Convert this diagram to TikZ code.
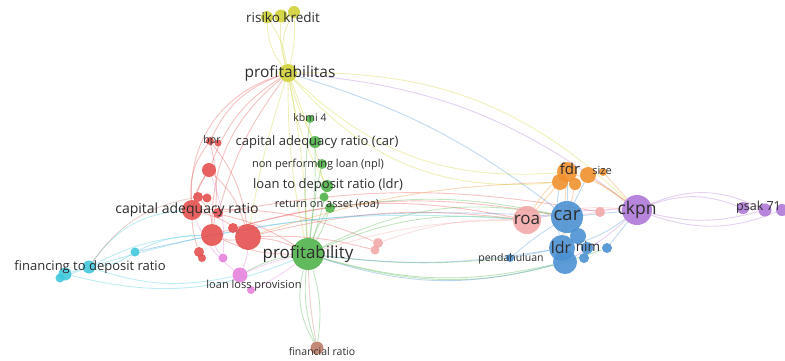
\documentclass[tikz,border=0pt]{standalone}
\usepackage{fontspec}
\setmainfont{Open Sans}
\usetikzlibrary{backgrounds}
\definecolor{cY}{RGB}{210,210,55}
\definecolor{cG}{RGB}{80,180,75}
\definecolor{cR}{RGB}{228,80,80}
\definecolor{cB}{RGB}{75,145,210}
\definecolor{cO}{RGB}{240,145,45}
\definecolor{cP}{RGB}{175,120,215}
\definecolor{cC}{RGB}{65,200,220}
\definecolor{cM}{RGB}{228,130,220}
\definecolor{cS}{RGB}{242,168,168}
\definecolor{cBr}{RGB}{190,125,105}
\definecolor{labc}{RGB}{45,45,45}
\begin{document}
\begin{tikzpicture}[x=1pt,y=-1pt,
  bub/.style 2 args={circle,fill=#1,inner sep=0pt,minimum size=#2,fill opacity=.9},
  lab/.style={text=labc,inner sep=0pt,font=\fontsize{#1}{#1}\selectfont},
  e/.style={draw=#1,draw opacity=.35,line width=.9pt}]
\useasboundingbox (0,0) rectangle (785,360);
% ---------- bubbles ----------
% yellow
\node[bub={cY}{12}] (rkA) at (267,17) {};
\node[bub={cY}{13}] (rkB) at (281,16) {};
\node[bub={cY}{12}] (rkC) at (294,12) {};
\node[bub={cY}{18}] (ptas) at (288,73) {};
% green
\node[bub={cG}{32}] (pty) at (308,254) {};
\node[bub={cG}{8}] (kbmi) at (310,119) {};
\node[bub={cG}{12}] (carG) at (315,142) {};
\node[bub={cG}{10}] (npl) at (322,164) {};
\node[bub={cG}{12}] (ldrG) at (327,186) {};
\node[bub={cG}{9}] (ldrG2) at (324,197) {};
\node[bub={cG}{10}] (roaG) at (330,208) {};
% red
\node[bub={cR}{8}] (bprA) at (210,141) {};
\node[bub={cR}{7}] (bprB) at (218,143) {};
\node[bub={cR}{14}] (r1) at (209,170) {};
\node[bub={cR}{10}] (r2) at (198,197) {};
\node[bub={cR}{9}] (r3) at (207,198) {};
\node[bub={cR}{20}] (r4) at (192,210) {};
\node[bub={cR}{10}] (r5) at (218,213) {};
\node[bub={cR}{22}] (r6) at (212,235) {};
\node[bub={cR}{26}] (r7) at (248,237) {};
\node[bub={cR}{10}] (r8) at (233,228) {};
\node[bub={cR}{10}] (r9) at (199,252) {};
\node[bub={cR}{8}] (r10) at (202,258) {};
% magenta
\node[bub={cM}{9}] (m1) at (223,258) {};
\node[bub={cM}{15}] (m2) at (240,275) {};
\node[bub={cM}{8}] (m3) at (251,290) {};
% cyan
\node[bub={cC}{9}] (c1) at (135,252) {};
\node[bub={cC}{13}] (c2) at (89,267) {};
\node[bub={cC}{13}] (c3) at (65,274) {};
\node[bub={cC}{9}] (c4) at (60,278) {};
% brown
\node[bub={cBr}{13}] (fr) at (317,348) {};
% salmon
\node[bub={cS}{10}] (s1) at (378,243) {};
\node[bub={cS}{9}] (s2) at (375,250) {};
\node[bub={cS}{10}] (s3) at (600,212) {};
\node[bub={cS}{28}] (roa) at (527,220) {};
% orange
\node[bub={cO}{16}] (o2) at (560,182) {};
\node[bub={cO}{12}] (o3) at (575,184) {};
\node[bub={cO}{16}] (o4) at (588,175) {};
\node[bub={cO}{20}] (fdr) at (567,172) {};
\node[bub={cO}{8}] (size) at (603,172) {};
% blue
\node[bub={cB}{24}] (ldrB) at (565,262) {};
\node[bub={cB}{26}] (ldrA) at (562,248) {};
\node[bub={cB}{16}] (b3) at (578,236) {};
\node[bub={cB}{32}] (car) at (567,217) {};
\node[bub={cB}{12}] (nim) at (587,248) {};
\node[bub={cB}{10}] (b5) at (584,258) {};
\node[bub={cB}{10}] (b6) at (607,248) {};
\node[bub={cB}{8}] (pend) at (510,258) {};
% purple
\node[bub={cP}{30}] (ckpn) at (637,210) {};
\node[bub={cP}{12}] (ps1) at (743,208) {};
\node[bub={cP}{13}] (ps2) at (765,210) {};
\node[bub={cP}{12}] (ps3) at (782,210) {};
% ---------- links ----------
\begin{pgfonlayer}{background}
% yellow
\draw[e=cY] (ptas) to[bend right=12] (rkA);
\draw[e=cY] (ptas) to[bend left=18] (rkA);
\draw[e=cY] (ptas) to[bend left=10] (rkB);
\draw[e=cY] (ptas) to[bend right=8] (rkC);
\draw[e=cY] (ptas) to[bend left=22] (rkC);
\draw[e=cY] (rkA) to[bend right=30] (rkC);
\draw[e=cY] (ptas) to[bend right=24] (fdr);
\draw[e=cY] (ptas) to[bend right=27] (o2);
\draw[e=cY] (ptas) to[bend left=22] (ckpn);
\draw[e=cP] (ptas) to[bend left=16] (ckpn);
\draw[e=cY] (ptas) to[bend left=4] (pty);
\draw[e=cY] (ptas) to[bend right=6] (pty);
\draw[e=cY] (ptas) to[bend right=6] (carG);
\draw[e=cY] (ptas) to[bend right=10] (ldrG);
\draw[e=cY] (ptas) to[bend left=4] (roaG);
\draw[e=cY] (ptas) to[bend right=4] (r7);
% red
\draw[e=cR] (ptas) to[bend right=22] (bprA);
\draw[e=cR] (ptas) to[bend right=18] (r1);
\draw[e=cR] (ptas) to[bend right=38] (r4);
\draw[e=cR] (ptas) to[bend right=25] (r6);
\draw[e=cR] (ptas) to[bend right=10] (r5);
\draw[e=cR] (bprA) to[bend right=20] (r4);
\draw[e=cR] (bprA) to[bend left=10] (r6);
\draw[e=cR] (bprA) to[bend left=15] (r7);
\draw[e=cR] (r1) to[bend left=15] (r7);
\draw[e=cR] (r1) to[bend right=10] (r4);
\draw[e=cR] (r1) to[bend right=25] (r9);
\draw[e=cR] (r4) to[bend left=10] (r7);
\draw[e=cR] (r4) to[bend left=12] (pty);
\draw[e=cR] (r7) to[bend left=10] (pty);
\draw[e=cR] (r6) to[bend right=12] (pty);
\draw[e=cR] (r6) to[bend right=15] (r7);
\draw[e=cR] (r2) to[bend left=20] (r6);
\draw[e=cR] (r7) to[bend left=10] (roa);
\draw[e=cR] (r6) to[bend left=14] (roa);
\draw[e=cR] (r4) to[bend left=12] (s1);
\draw[e=cR] (r7) to[bend left=8] (s2);
\draw[e=cR] (r8) to[bend left=12] (car);
\draw[e=cR] (r5) to[bend left=10] (s3);
% salmon
\draw[e=cS] (roa) to[bend right=8] (pty);
\draw[e=cS] (roa) to[bend right=10] (s1);
\draw[e=cS] (s3) to (car);
\draw[e=cS] (s3) to[bend left=10] (ckpn);
\draw[e=cS] (roa) to[bend left=10] (ckpn);
% green
\draw[e=cG] (pty) to[bend left=5] (kbmi);
\draw[e=cG] (pty) to[bend right=4] (carG);
\draw[e=cG] (pty) to[bend left=3] (npl);
\draw[e=cG] (pty) to[bend right=3] (ldrG);
\draw[e=cG] (pty) to[bend left=8] (roaG);
\draw[e=cG] (pty) to[bend right=6] (roaG);
\draw[e=cG] (pty) to[bend right=12] (fr);
\draw[e=cG] (pty) to[bend left=12] (fr);
\draw[e=cG] (pty) to[bend right=22] (fr);
\draw[e=cG] (pty) to[bend left=14] (roa);
\draw[e=cG] (pty) to[bend left=18] (car);
\draw[e=cG] (pty) to[bend right=14] (ldrB);
\draw[e=cG] (pty) to[bend right=18] (b6);
\draw[e=cG] (pty) to[bend right=6] (pend);
\draw[e=cG] (pty) to[bend right=10] (m2);
\draw[e=cG] (roaG) to[bend left=10] (car);
% blue
\draw[e=cB] (ptas) to[bend left=10] (car);
\draw[e=cB] (ldrA) to[bend left=8] (pty);
\draw[e=cB] (ldrB) to[bend left=16] (pty);
\draw[e=cB] (car) to[bend right=4] (pend);
\draw[e=cB] (pend) to (ldrA);
\draw[e=cB] (car) to (ckpn);
\draw[e=cB] (ldrA) to[bend right=10] (ckpn);
\draw[e=cB] (b6) to (ckpn);
\draw[e=cB] (car) to (fdr);
\draw[e=cB] (car) to (o4);
\draw[e=cB] (ldrA) to[bend left=10] (o2);
\draw[e=cB] (car) to[bend right=8] (c1);
% cyan
\draw[e=cC] (c1) to[bend left=15] (c2);
\draw[e=cC] (c2) to[bend left=25] (r4);
\draw[e=cC] (c2) to[bend left=12] (r6);
\draw[e=cC] (c1) to[bend left=12] (r6);
\draw[e=cC] (c3) to[bend right=18] (pty);
\draw[e=cC] (c2) to[bend right=15] (m2);
\draw[e=cC] (c2) to[bend left=10] (roa);
\draw[e=cC] (c3) to (c2);
\draw[e=cC] (c4) to (c2);
\draw[e=cBr] (c2) to[bend left=22] (r2);
% magenta
\draw[e=cM] (m2) to[bend left=6] (pty);
\draw[e=cM] (m1) to[bend left=10] (r6);
\draw[e=cM] (m2) to[bend right=10] (r7);
\draw[e=cM] (m3) to[bend right=6] (pty);
\draw[e=cM] (m2) to[bend left=15] (r4);
\draw[e=cM] (m1) to[bend right=12] (r1);
% orange
\draw[e=cO] (fdr) to[bend right=10] (roa);
\draw[e=cO] (o2) to (roa);
\draw[e=cO] (o4) to (ckpn);
\draw[e=cO] (fdr) to[bend left=10] (ckpn);
\draw[e=cO] (size) to (ckpn);
\draw[e=cO] (fdr) to (ldrA);
\draw[e=cO] (o3) to (ldrA);
\draw[e=cO] (o2) to[bend right=8] (r7);
% purple
\draw[e=cP] (ckpn) to[bend left=20] (ps1);
\draw[e=cP] (ckpn) to[bend left=24] (ps2);
\draw[e=cP] (ckpn) to[bend right=20] (ps3);
\draw[e=cP] (ckpn) to[bend right=14] (ps2);
\draw[e=cP] (ps1) to (ps2);
\draw[e=cP] (ckpn) to[bend right=6] (roa);
\draw[e=cP] (ckpn) to[bend left=6] (ldrB);
% brown
\draw[e=cBr] (fr) to[bend left=4] (pty);
\end{pgfonlayer}
% ---------- labels ----------
\node[lab=13.5] (lrk) at (283,17) {risiko kredit};
\node[lab=15.5] (lptas) at (290,73) {profitabilitas};
\node[lab=10.5] (lkbmi) at (310,118) {kbmi 4};
\node[lab=13] (lcarG) at (317,142) {capital adequacy ratio (car)};
\node[lab=11] (lnpl) at (318,165) {non performing loan (npl)};
\node[lab=13] (lldrG) at (328,185) {loan to deposit ratio (ldr)};
\node[lab=11] (lroaG) at (327,204) {return on asset (roa)};
\node[lab=10.5] (lbpr) at (212,141) {bpr};
\node[lab=14] (lcar) at (187,210) {capital adequacy ratio};
\node[lab=17] (lpty) at (308,254) {profitability};
\node[lab=13] (lfdr2) at (90,267) {financing to deposit ratio};
\node[lab=11] (lllp) at (254,286) {loan loss provision};
\node[lab=10.5] (lfr) at (322,352) {financial ratio};
\node[lab=17] (lroa) at (527,220) {roa};
\node[lab=18.5] (lcarB) at (567,216) {car};
\node[lab=16] (lldr) at (561,247) {ldr};
\node[lab=13.5] (lnim) at (588,247) {nim};
\node[lab=10.5] (lpend) at (511,259) {pendahuluan};
\node[lab=15] (lfdr) at (570,169) {fdr};
\node[lab=11] (lsize) at (602,171) {size};
\node[lab=17.5] (lckpn) at (637,210) {ckpn};
\node[lab=12.5,anchor=west] (lpsak) at (736,207) {psak 71};
\end{tikzpicture}
\end{document}
